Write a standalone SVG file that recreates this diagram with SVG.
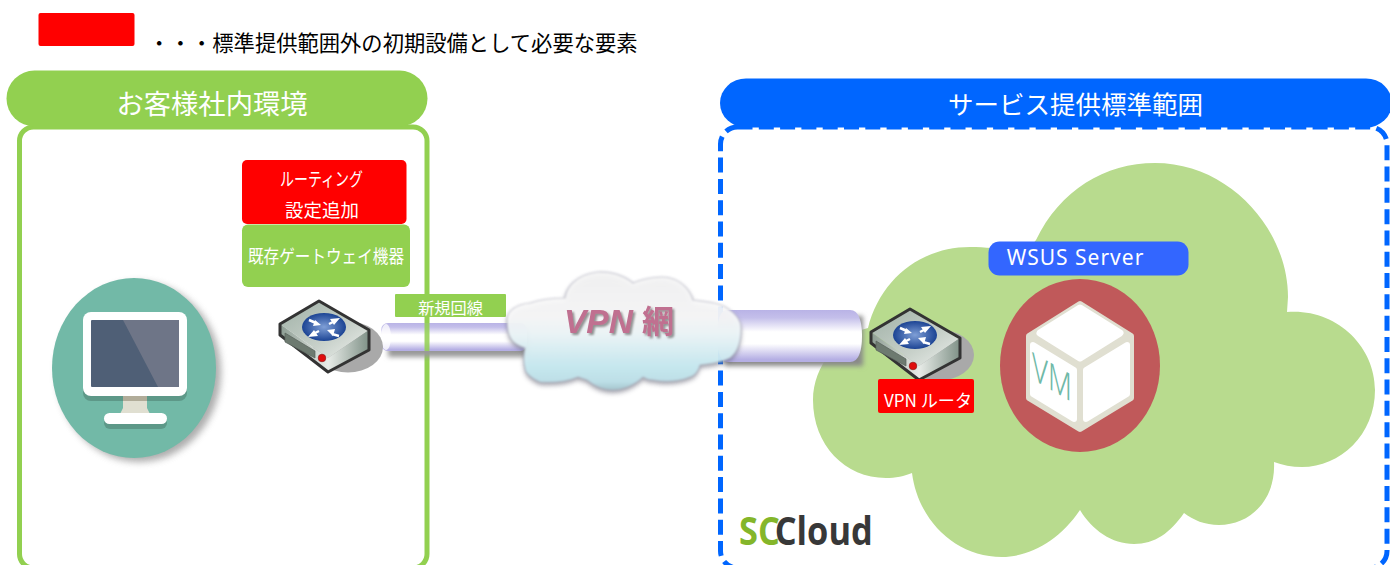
<svg xmlns="http://www.w3.org/2000/svg" width="1390" height="565" viewBox="0 0 1390 565">
<style>
text{font-family:"Noto Sans CJK JP","Noto Sans",sans-serif;fill:#fff;text-anchor:middle}
</style>
<defs>
<filter id="soft" x="-30%" y="-30%" width="160%" height="160%"><feGaussianBlur stdDeviation="3.5"/></filter>
<filter id="soft2" x="-30%" y="-30%" width="160%" height="160%"><feGaussianBlur stdDeviation="2.5"/></filter>
<filter id="edge" x="-10%" y="-10%" width="120%" height="120%"><feGaussianBlur stdDeviation="1.2"/></filter>
<filter id="textShadow" x="-10%" y="-20%" width="120%" height="140%"><feDropShadow dx="2" dy="2" stdDeviation="1.2" flood-color="#777" flood-opacity=".8"/></filter>
<linearGradient id="pipe" x1="0" y1="0" x2="0" y2="1"><stop offset="0" stop-color="#b9b3e6"/><stop offset=".15" stop-color="#c4bfea"/><stop offset=".42" stop-color="#fff"/><stop offset=".65" stop-color="#fff"/><stop offset=".95" stop-color="#b5afe4"/></linearGradient>
<linearGradient id="cloudFill" x1="0" y1="0" x2="0" y2="1"><stop offset="0" stop-color="#f6f6f6"/><stop offset=".38" stop-color="#fbfbfb"/><stop offset=".52" stop-color="#f1fafc"/><stop offset=".8" stop-color="#c9edf4"/><stop offset=".93" stop-color="#bfe4ec"/><stop offset="1" stop-color="#a5c8d0"/></linearGradient>
<linearGradient id="routerTop" x1="0" y1="0" x2="1" y2="1"><stop offset="0" stop-color="#9fb0a6"/><stop offset=".6" stop-color="#c7d0c9"/><stop offset="1" stop-color="#eef1ee"/></linearGradient>
<linearGradient id="routerFront" x1="0" y1="0" x2="1" y2="0"><stop offset="0" stop-color="#8c9c92"/><stop offset="1" stop-color="#e8ece8"/></linearGradient>
<linearGradient id="routerSide" x1="0" y1="0" x2="1" y2="0"><stop offset="0" stop-color="#e8ece8"/><stop offset="1" stop-color="#7f9187"/></linearGradient>
<radialGradient id="routerDisc"><stop offset="0" stop-color="#7f9fd6"/><stop offset="1" stop-color="#1c4494"/></radialGradient>
<g id="router">
<ellipse cx="70" cy="47" rx="35" ry="25.500" fill="#a9a9a9"/>
<path d="M2 24 41 1 91 30 50 58Z" fill="url(#routerTop)"/>
<path d="M2 24 50 58V72L2 35Z" fill="url(#routerFront)"/>
<path d="M50 58 91 30V50L50 72Z" fill="url(#routerSide)"/>
<path d="M2 24 41 1 91 30V50L50 72 2 35Z" fill="none" stroke="#333" stroke-width="3" stroke-linejoin="round"/>
<path d="M7 33 37 51V58L7 42Z" fill="#6d7a70" stroke="#57615a" stroke-width=".7"/>
<circle cx="44" cy="58" r="3.800" fill="#e00d0d" stroke="#8c1a1a" stroke-width=".7"/>
<ellipse cx="46" cy="27" rx="22" ry="14" fill="url(#routerDisc)"/>
<path d="M31 20 38 23M51 24 56 21.500M41 31 36 33.500M54 34 61 36" stroke="#fff" stroke-width="2.500" fill="none"/>
<path d="M43 25 35 26 37 20ZM62 18 52 19 56 25ZM30 37 40 36 36 30ZM49 30 57 29 55 36Z" fill="#fff"/>
</g>
</defs>

<g id="legend">
<rect x="38.500" y="13" width="96" height="33" rx="2" fill="#ff0000"/>
<text x="393" y="51" font-size="21.300" style="fill:#000">・・・標準提供範囲外の初期設備として必要な要素</text>
</g>

<g id="customer-zone">
<rect x="19.500" y="127" width="407.500" height="441" rx="14" fill="#fff" stroke="#92d050" stroke-width="5"/>
<rect x="6.500" y="70.500" width="421" height="56" rx="28" fill="#92d050"/>
<text x="212" y="114" font-size="27.300">お客様社内環境</text>
</g>

<g id="service-zone">
<rect x="720.500" y="127" width="666.500" height="441" rx="17" fill="#fff" stroke="#0066ff" stroke-width="5" stroke-dasharray="15 6.300"/>
<rect x="720" y="78.500" width="672" height="49" rx="26" fill="#0066ff"/>
<text x="1075.500" y="114" font-size="25.500">サービス提供標準範囲</text>
</g>

<g id="cloud-backdrop">
<path d="M813 400C813 365 840 335 868 328 880 280 920 247 970 247 1000 247 1025 255 1036 240 1060 190 1105 163 1155 163 1230 163 1288 230 1288 297L1287 312C1335 308 1375 345 1375 390 1375 435 1340 467 1302 467 1292 467 1282 465 1274 462 1276 500 1250 525 1219 525 1205 525 1193 520 1184 513 1170 533 1155 544 1134 544 1112 544 1092 530 1080 510 1060 540 1030 557 1002 557 955 557 918 520 912 473 905 476 895 478 886 478 845 478 813 445 813 400Z" fill="#b8db8e"/>
<text transform="translate(739 545) scale(.86 1)" font-size="40" font-weight="700" style="text-anchor:start;fill:#383838;font-family:'Open Sans',sans-serif"><tspan style="fill:#84b62a">SC</tspan><tspan dx="-6">Cloud</tspan></text>
</g>

<g id="client">
<ellipse cx="134" cy="368" rx="82" ry="90" fill="#777" opacity=".6" filter="url(#soft)" transform="translate(5 4)"/>
<ellipse cx="134" cy="368" rx="82" ry="90" fill="#72b9a7"/>
<rect x="83" y="317" width="104" height="84" rx="8" fill="#5d9888"/>
<path d="M123 396H147V408L150 414H120L123 408Z" fill="#e0dfd1"/>
<path d="M123 396H147V401H123Z" fill="#b1ac99"/>
<rect x="104" y="417" width="63" height="12" rx="6" fill="#5d9888"/>
<rect x="104" y="413" width="63" height="11" rx="5.500" fill="#fff"/>
<rect x="83" y="312" width="104" height="84" rx="8" fill="#fff"/>
<rect x="91" y="320" width="88" height="67" rx="1" fill="#4f5f76"/>
<path d="M123 320H179V387H158Z" fill="#6e7587"/>
</g>

<g id="connectors">
<rect x="386" y="326" width="140" height="28" fill="#999" filter="url(#soft2)" transform="translate(2 3)"/>
<rect x="381" y="323" width="146" height="28" rx="7" fill="url(#pipe)"/>
<ellipse cx="386" cy="337" rx="5" ry="13" fill="#fff" opacity=".75"/>
<rect x="722" y="314" width="138" height="50" fill="#888" filter="url(#soft2)" transform="translate(3 2)"/>
<path d="M727 310H850C859 310 862 322 862 336 862 350 859 362 850 362H727C720 362 717 350 717 336 717 322 720 310 727 310Z" fill="url(#pipe)"/>
</g>

<g id="customer-line-overlay">
<path d="M427 323V351" stroke="#92d050" stroke-width="5" opacity=".85"/>
</g>

<g id="new-line-label">
<rect x="395" y="294" width="111" height="23" rx="1" fill="#92d050"/>
<text x="450.500" y="314" font-size="16.200">新規回線</text>
</g>

<g id="gateway">
<rect x="242" y="160" width="164.500" height="64" rx="5" fill="#ff0000"/>
<text x="321.500" y="185.500" font-size="18.500" textLength="83" lengthAdjust="spacingAndGlyphs">ルーティング</text>
<text x="322" y="216.500" font-size="18.500">設定追加</text>
<rect x="242" y="224.500" width="168" height="62.500" rx="6" fill="#92d050"/>
<text x="326" y="263" font-size="18.500" textLength="156" lengthAdjust="spacingAndGlyphs">既存ゲートウェイ機器</text>
<use href="#router" x="278" y="300"/>
</g>

<g id="vpn-cloud">
<path d="M507 320C507 310 518 304 530 303 542 299 555 298 565 298 566 289 574 275 597 272 610 271 624 275 633 283 647 277 664 276 670 278 682 281 690 290 693 300 708 302 720 303 727 308 738 315 741 322 741 328 741 342 738 352 730 358 722 362 710 364 700 365 698 372 694 376 690 377 678 382 664 382 653 380 649 380 646 379 643 377 634 386 622 390 613 390 600 390 592 384 587 380 584 379 581 378 578 377 566 382 552 383 540 382 530 378 525 372 525 368 523 360 524 353 525 348 514 344 507 340 507 320Z" fill="#556" opacity=".55" filter="url(#soft2)" transform="translate(0 3)"/>
<path d="M507 320C507 310 518 304 530 303 542 299 555 298 565 298 566 289 574 275 597 272 610 271 624 275 633 283 647 277 664 276 670 278 682 281 690 290 693 300 708 302 720 303 727 308 738 315 741 322 741 328 741 342 738 352 730 358 722 362 710 364 700 365 698 372 694 376 690 377 678 382 664 382 653 380 649 380 646 379 643 377 634 386 622 390 613 390 600 390 592 384 587 380 584 379 581 378 578 377 566 382 552 383 540 382 530 378 525 372 525 368 523 360 524 353 525 348 514 344 507 340 507 320Z" fill="url(#cloudFill)" fill-opacity=".92" stroke="#aab" stroke-opacity=".5" stroke-width="1.200" filter="url(#edge)"/>
<text x="564" y="333" font-size="33.500" font-weight="700" style="text-anchor:start;fill:#c07090;font-family:'Liberation Sans','Noto Sans CJK JP',sans-serif" filter="url(#textShadow)"><tspan font-style="italic">VPN</tspan><tspan x="642" font-size="32" style="font-family:'Noto Sans CJK JP',sans-serif">網</tspan></text>
</g>

<g id="vpn-router">
<use href="#router" x="869" y="308"/>
<rect x="878" y="379" width="96" height="34" rx="2" fill="#ff0000"/>
<text x="928" y="407" font-size="17.500" textLength="88" lengthAdjust="spacingAndGlyphs">VPN ルータ</text>
</g>

<g id="wsus-server">
<rect x="988.500" y="241.500" width="200" height="34" rx="11" fill="#3366ff"/>
<text x="1075.500" y="265" font-size="21" style="font-family:'Noto Sans',sans-serif" letter-spacing="1">WSUS Server</text>
<ellipse cx="1080" cy="365.500" rx="80" ry="86.500" fill="#c0595a"/>
<path d="M1080 304 1131 336V398L1080 429 1029 398V336Z" fill="#e0dfd1" stroke="#e0dfd1" stroke-width="6" stroke-linejoin="round"/>
<path d="M1080 308 1120 333 1080 358 1040 333Z" fill="#fff" stroke="#fff" stroke-width="7" stroke-linejoin="round"/>
<path d="M1033 345 1074 370V419L1033 394Z" fill="#fff" stroke="#fff" stroke-width="6" stroke-linejoin="round"/>
<path d="M1127 345 1086 370V419L1127 394Z" fill="#fff" stroke="#fff" stroke-width="6" stroke-linejoin="round"/>
<text transform="matrix(.72 .42 0 1 1032 379)" font-size="38" style="text-anchor:start;fill:#6fb9a7;font-family:'Noto Sans',sans-serif;font-weight:300">VM</text>
</g>
</svg>
